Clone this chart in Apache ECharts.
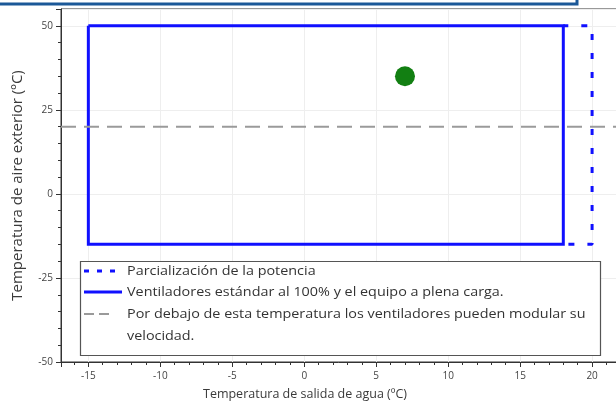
<!DOCTYPE html>
<html>
<head>
<meta charset="utf-8">
<script src="https://cdn.jsdelivr.net/npm/echarts@6/dist/echarts.min.js"></script>
<style>
  html, body { margin: 0; padding: 0; background: #fff; }
  #chart { width: 616px; height: 407px; }
</style>
</head>
<body>
<div id="chart"></div>
<script>
// Operating envelope: outdoor air temperature vs. leaving water temperature
const xAxisMin = -16.9;
const xAxisMax = 21.8;
const yAxisMin = -50;
const yAxisMax = 55;

// Full-load envelope (fans at 100%)
const fullLoadX = [-15, 18, 18, -15, -15];
const fullLoadY = [50, 50, -15, -15, 50];

// Partial-capacity extension
const partialX = [18, 20, 20, 18];
const partialY = [50, 50, -15, -15];

// Fan-modulation threshold (outdoor temperature)
const thresholdY = 20;

// Design point
const pointX = [7];
const pointY = [35];

const seriesNames = [
  'Parcialización de la potencia',
  'Ventiladores estándar al 100% y el equipo a plena carga.',
  'Por debajo de esta temperatura los ventiladores pueden modular su',
  'velocidad.'
];

const FONT = '"Open Sans", "Noto Sans", sans-serif';
const zip = (xs, ys) => xs.map((x, i) => [x, ys[i]]);

const chart = echarts.init(document.getElementById('chart'), null, { renderer: 'canvas' });

// one line of legend text, slightly widened
function legendText(str, y) {
  return {
    type: 'text', x: 127, y: y, scaleX: 1.15, silent: true, z: 11,
    style: { text: str, fontFamily: FONT, fontSize: 12.5, fill: '#333', verticalAlign: 'middle' }
  };
}

chart.setOption({
  animation: false,
  backgroundColor: '#ffffff',
  grid: {
    left: 61, top: 9, right: -2, bottom: 45,
    outerBoundsMode: 'none',
    containLabel: false,
    show: true, borderColor: '#333', borderWidth: 1, backgroundColor: 'transparent'
  },
  xAxis: {
    type: 'value',
    min: xAxisMin, max: xAxisMax,
    splitNumber: 8,
    name: 'Temperatura de salida de agua (ºC)',
    nameLocation: 'middle',
    nameGap: 26,
    // right padding shifts the centred title left, under the zero tick
    nameTextStyle: { fontFamily: FONT, fontSize: 12.5, color: '#3a3a3a', padding: [0, 69, 0, 0] },
    axisLine: { onZero: false, lineStyle: { color: '#333', width: 1 } },
    axisTick: { length: 5, lineStyle: { color: '#333' } },
    minorTick: { show: true, splitNumber: 5, length: 3, lineStyle: { color: '#333' } },
    axisLabel: {
      showMinLabel: false, showMaxLabel: false,
      fontFamily: FONT, fontSize: 10, color: '#444', margin: 9
    },
    splitLine: { show: true, lineStyle: { color: '#eeeeee', width: 1 } }
  },
  yAxis: {
    type: 'value',
    min: yAxisMin, max: yAxisMax,
    interval: 25,
    name: 'Temperatura de aire exterior (ºC)',
    nameLocation: 'middle',
    nameGap: 36,
    nameTextStyle: { fontFamily: FONT, fontSize: 15, color: '#3a3a3a' },
    axisLine: { onZero: false, lineStyle: { color: '#333', width: 1 } },
    axisTick: { length: 5, lineStyle: { color: '#333' } },
    minorTick: { show: true, splitNumber: 5, length: 3, lineStyle: { color: '#333' } },
    axisLabel: {
      showMaxLabel: false,
      fontFamily: FONT, fontSize: 10, color: '#444', margin: 8
    },
    splitLine: { show: true, lineStyle: { color: '#eeeeee', width: 1 } }
  },
  series: [
    {
      name: seriesNames[0],
      type: 'line',
      data: zip(partialX, partialY),
      showSymbol: false, symbol: 'none',
      lineStyle: { color: '#1010ff', width: 3, type: [6, 13], dashOffset: 1, cap: 'butt' },
      z: 2
    },
    {
      name: seriesNames[1],
      type: 'line',
      data: zip(fullLoadX, fullLoadY),
      showSymbol: false, symbol: 'none',
      lineStyle: { color: '#1010ff', width: 3, join: 'miter' },
      z: 3
    },
    {
      name: seriesNames[2],
      type: 'line',
      data: [[xAxisMin, thresholdY], [xAxisMax, thresholdY]],
      showSymbol: false, symbol: 'none',
      lineStyle: { color: '#9a9a9a', width: 2, type: [15, 8] },
      z: 4
    },
    {
      name: 'Punto',
      type: 'scatter',
      data: zip(pointX, pointY),
      symbolSize: 20,
      itemStyle: { color: '#127f12', opacity: 1 },
      z: 5
    }
  ],
  graphic: [
    // page frame above the chart
    {
      type: 'rect', silent: true,
      shape: { x: -10, y: -20, width: 587, height: 24 },
      style: { fill: 'none', stroke: '#1b5898', lineWidth: 3 }
    },
    // legend box
    { type: 'rect', silent: true, z: 10,
      shape: { x: 80.5, y: 261.5, width: 520, height: 94 },
      style: { fill: '#fff', stroke: '#555', lineWidth: 1.2 } },
    { type: 'line', silent: true, z: 11,
      shape: { x1: 84, y1: 271, x2: 120, y2: 271 },
      style: { stroke: '#1010ff', lineWidth: 3, lineDash: [5, 8] } },
    { type: 'line', silent: true, z: 11,
      shape: { x1: 84, y1: 292, x2: 122, y2: 292 },
      style: { stroke: '#1010ff', lineWidth: 3 } },
    { type: 'line', silent: true, z: 11,
      shape: { x1: 84, y1: 314, x2: 112, y2: 314 },
      style: { stroke: '#9a9a9a', lineWidth: 2, lineDash: [10, 5] } },
    legendText(seriesNames[0], 271),
    legendText(seriesNames[1], 292),
    legendText(seriesNames[2], 314),
    legendText(seriesNames[3], 336)
  ]
});
</script>
</body>
</html>
